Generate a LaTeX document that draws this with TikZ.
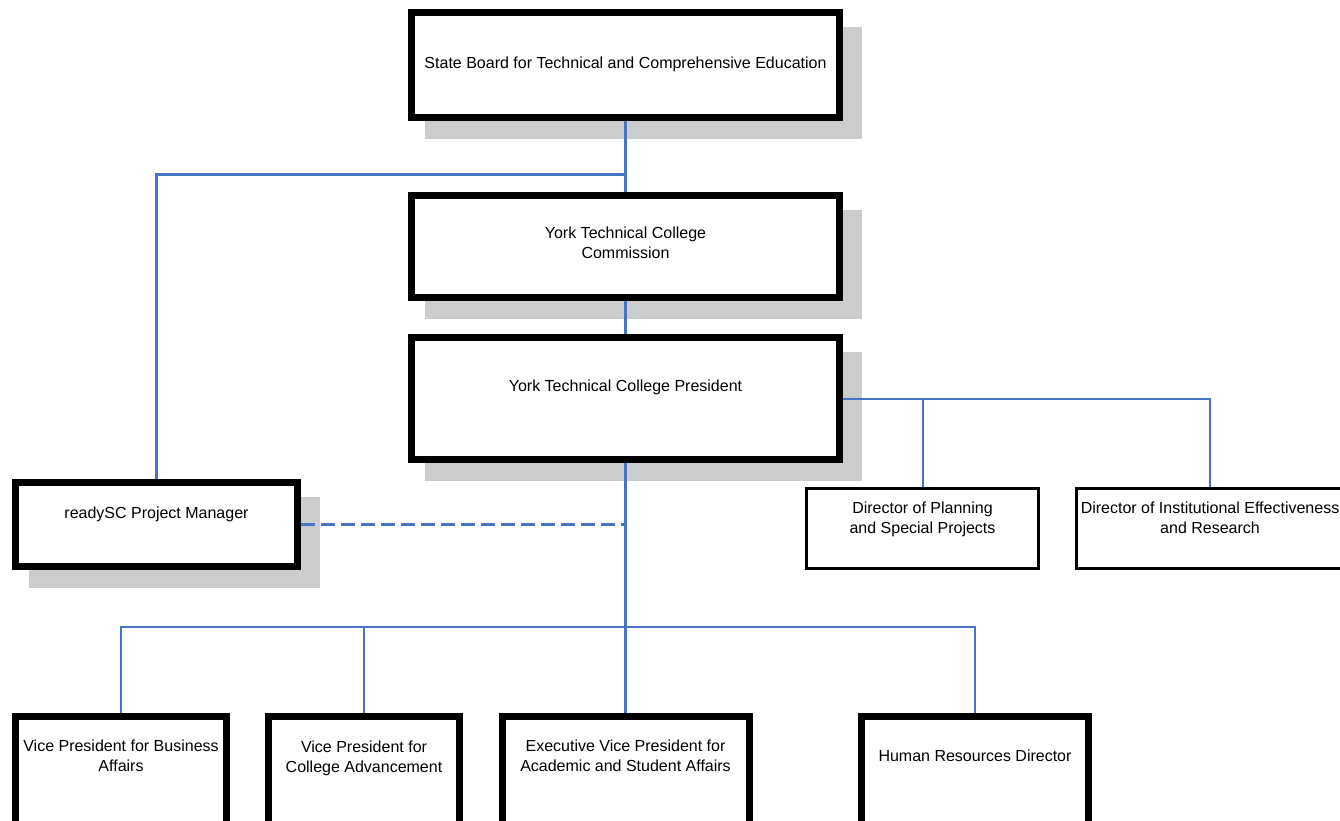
\documentclass[tikz,border=0pt]{standalone}
\usepackage{fontspec}
\setmainfont{Liberation Sans}
\usetikzlibrary{backgrounds}
\definecolor{orgblue}{RGB}{70,116,194}
\definecolor{shadowgray}{RGB}{204,204,204}
\tikzset{
  bigbox/.style={draw,line width=7pt,fill=white,inner sep=0pt},
  smallbox/.style={draw,line width=3pt,fill=white,inner sep=0pt},
  orgtext/.style={align=center,inner sep=0pt,font=\fontsize{16}{20}\selectfont},
  mainline/.style={orgblue,line width=3pt},
  thinline/.style={orgblue,line width=2pt}
}
\begin{document}
\begin{tikzpicture}[x=1pt,y=-1pt]
  \useasboundingbox (0,0) rectangle (1340,820);
  \node[bigbox,minimum width=428pt,minimum height=105pt] (board) at (625.5,65) {};
  \node[bigbox,minimum width=428pt,minimum height=102pt] (commission) at (625.5,246.5) {};
  \node[bigbox,minimum width=428pt,minimum height=122pt] (president) at (625.5,398.5) {};
  \node[bigbox,minimum width=282pt,minimum height=84pt] (readysc) at (156.5,524.5) {};
  \node[smallbox,minimum width=232pt,minimum height=80pt] (planning) at (922.5,528.5) {};
  \node[smallbox,minimum width=267pt,minimum height=80pt] (research) at (1210,528.5) {};
  \node[bigbox,minimum width=211pt,minimum height=120pt] (vpbusiness) at (121,776.5) {};
  \node[bigbox,minimum width=191pt,minimum height=120pt] (vpadvance) at (364,776.5) {};
  \node[bigbox,minimum width=247pt,minimum height=120pt] (evp) at (625.5,776.5) {};
  \node[bigbox,minimum width=227pt,minimum height=120pt] (hrdirector) at (975,776.5) {};
  \begin{scope}[on background layer]
    \foreach \n in {board,commission,president,readysc}
      \fill[shadowgray] ([shift={(17,18)}]\n.north west) rectangle ([shift={(19,18)}]\n.south east);
  \end{scope}

  \node[orgtext] (boardtext) at ([yshift=-55pt]board.north) {State Board for Technical and Comprehensive Education};
  \node[orgtext] (commissiontext) at ([yshift=-51pt]commission.north) {York Technical College\\Commission};
  \node[orgtext] (presidenttext) at ([yshift=-53pt]president.north) {York Technical College President};
  \node[orgtext] (readysctext) at ([yshift=-35pt]readysc.north) {readySC Project Manager};
  \node[orgtext] (planningtext) at ([yshift=-32pt]planning.north) {Director of Planning\\and Special Projects};
  \node[orgtext] (researchtext) at ([yshift=-31pt]research.north) {Director of Institutional Effectiveness\\and Research};
  \node[orgtext] (vpbusinesstext) at ([yshift=-43pt]vpbusiness.north) {Vice President for Business\\Affairs};
  \node[orgtext] (vpadvancetext) at ([yshift=-45pt]vpadvance.north) {Vice President for\\College Advancement};
  \node[orgtext] (evptext) at ([yshift=-43pt]evp.north) {Executive Vice President for\\Academic and Student Affairs};
  \node[orgtext] (hrdirectortext) at ([yshift=-43pt]hrdirector.north) {Human Resources Director};

  \coordinate (toplevel) at (0,174);
  \coordinate (botlevel) at (0,627);
  \draw[mainline] (board.south) -- (commission.north);
  \draw[mainline] (board.south |- toplevel) -| (readysc.north);
  \draw[mainline] (commission.south) -- (president.north);
  \draw[thinline] (president.east) -| (planning.north);
  \draw[thinline] (president.east) -| (research.north);
  \draw[mainline] (president.south) -- (evp.north);
  \draw[mainline,dash pattern=on 14pt off 6pt] (readysc.east) -- (readysc.east -| president.south);
  \foreach \n in {vpbusiness,vpadvance,hrdirector}
    \draw[thinline] (president.south |- botlevel) -| (\n.north);
\end{tikzpicture}
\end{document}
